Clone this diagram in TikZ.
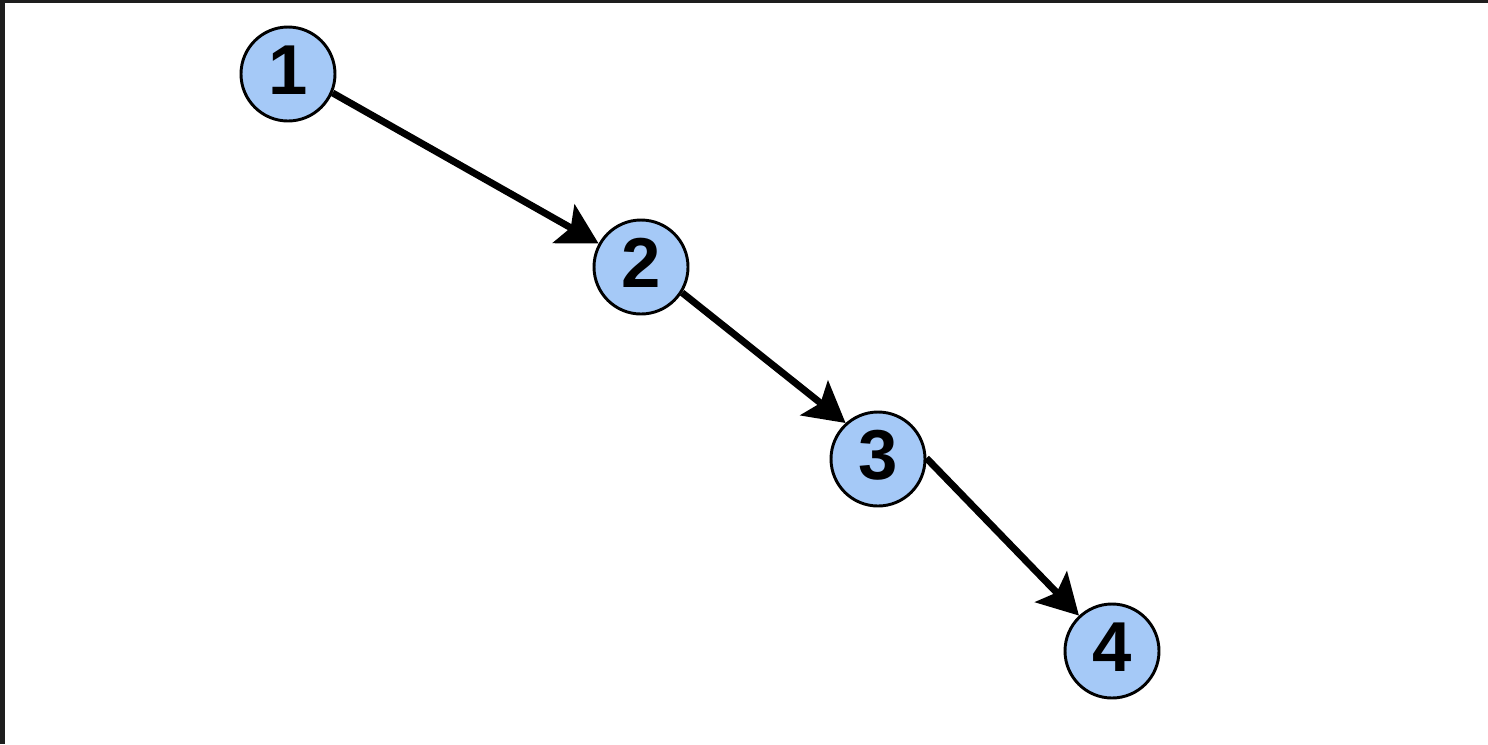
\documentclass[tikz,border=0pt]{standalone}
\usepackage{fontspec}
\setmainfont{Liberation Sans}
\usetikzlibrary{arrows.meta}
\definecolor{nodefill}{RGB}{165,201,247}
\definecolor{framedark}{RGB}{30,30,30}
\tikzset{
  vertex/.style={circle, draw=black, line width=2.2pt, fill=nodefill,
    minimum size=70.5pt, inner sep=0pt,
    font=\fontsize{53}{60}\selectfont\bfseries, text height=38.3pt, text depth=7.5pt},
  edgearrow/.style={line width=5.2pt, draw=black,
    -{Stealth[length=30pt, width=33pt, inset=6pt]}}
}
\begin{document}
\begin{tikzpicture}[x=0.75pt, y=-0.75pt]
  \useasboundingbox (0,0) rectangle (1488,744);
  \fill[white] (0,0) rectangle (1488,744);
  \fill[framedark] (0,0) rectangle (1488,3);
  \fill[framedark] (0,0) rectangle (5,744);
  \node[vertex] (n1) at (288,74) {1};
  \node[vertex] (n2) at (641,267) {2};
  \node[vertex] (n3) at (878,459) {3};
  \node[vertex] (n4) at (1112,651) {4};
  \draw[edgearrow] (n1.-23) -- (n2.151);
  \draw[edgearrow] (n2.-32) -- (n3.132);
  \draw[edgearrow] (n3.1) -- (n4.133);
\end{tikzpicture}
\end{document}
